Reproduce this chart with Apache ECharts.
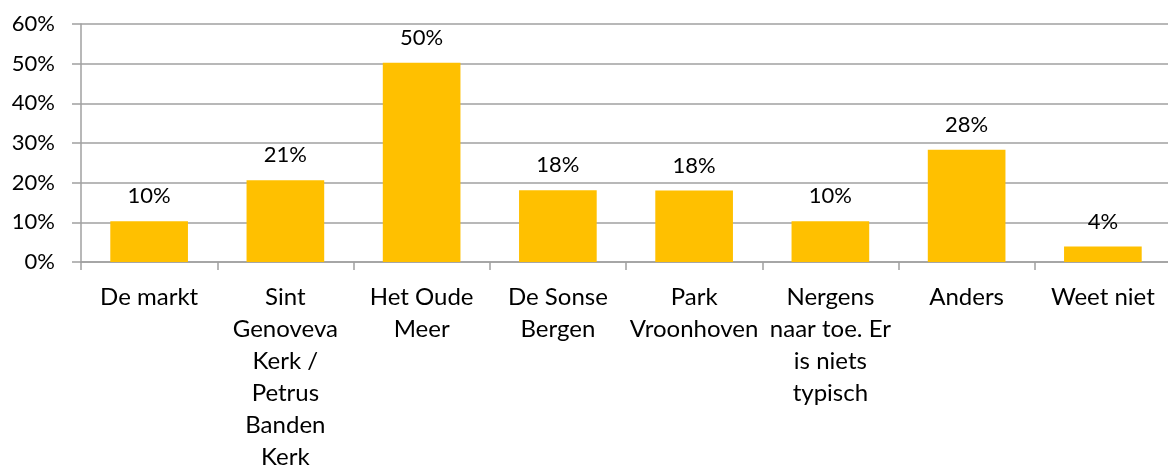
<!DOCTYPE html>
<html>
<head>
<meta charset="utf-8">
<script src="https://cdn.jsdelivr.net/npm/echarts@6/dist/echarts.min.js"></script>
<style>
html,body{margin:0;padding:0;background:#fff;}
#chart{width:1168px;height:469px;}
</style>
</head>
<body>
<div id="chart"></div>
<script>
const categories = [
  "De markt",
  "Sint\nGenoveva\nKerk /\nPetrus\nBanden\nKerk",
  "Het Oude\nMeer",
  "De Sonse\nBergen",
  "Park\nVroonhoven",
  "Nergens\nnaar toe. Er\nis niets\ntypisch",
  "Anders",
  "Weet niet"
];
const values = [10.3, 20.6, 50.2, 18.1, 18.0, 10.3, 28.3, 3.9];
const yTicks = [0, 10, 20, 30, 40, 50, 60];

const FONT = 'Lato';
const chart = echarts.init(document.getElementById('chart'));
chart.setOption({
  animation: false,
  grid: {left: 81, right: -3, top: 24, bottom: 207, containLabel: false, outerBoundsMode: 'none'},
  xAxis: {
    type: 'category',
    data: categories,
    axisLine: {show: true, lineStyle: {color: '#a0a0a0', width: 1.5}},
    axisTick: {show: true, length: 8, lineStyle: {color: '#a0a0a0', width: 1.5}},
    axisLabel: {
      interval: 0, margin: 19, color: '#000', fontFamily: FONT, fontSize: 24,
      lineHeight: 32, align: 'center'
    }
  },
  yAxis: {
    type: 'value',
    min: yTicks[0], max: yTicks[yTicks.length - 1], interval: 10,
    axisLine: {show: true, lineStyle: {color: '#a0a0a0', width: 1.5}},
    axisTick: {show: true, length: 9, lineStyle: {color: '#a0a0a0', width: 1.5}},
    axisLabel: {
      margin: 26, color: '#000', fontFamily: FONT, fontSize: 22,
      formatter: v => v + '%'
    },
    splitLine: {show: true, lineStyle: {color: '#a0a0a0', width: 1.5}}
  },
  series: [{
    type: 'bar',
    data: values,
    barCategoryGap: '43%',
    itemStyle: {color: '#FFC000'},
    label: {
      show: true, position: 'top', distance: 14, color: '#000',
      fontFamily: FONT, fontSize: 22,
      formatter: p => Math.round(p.value) + '%'
    }
  }]
});
</script>
</body>
</html>
